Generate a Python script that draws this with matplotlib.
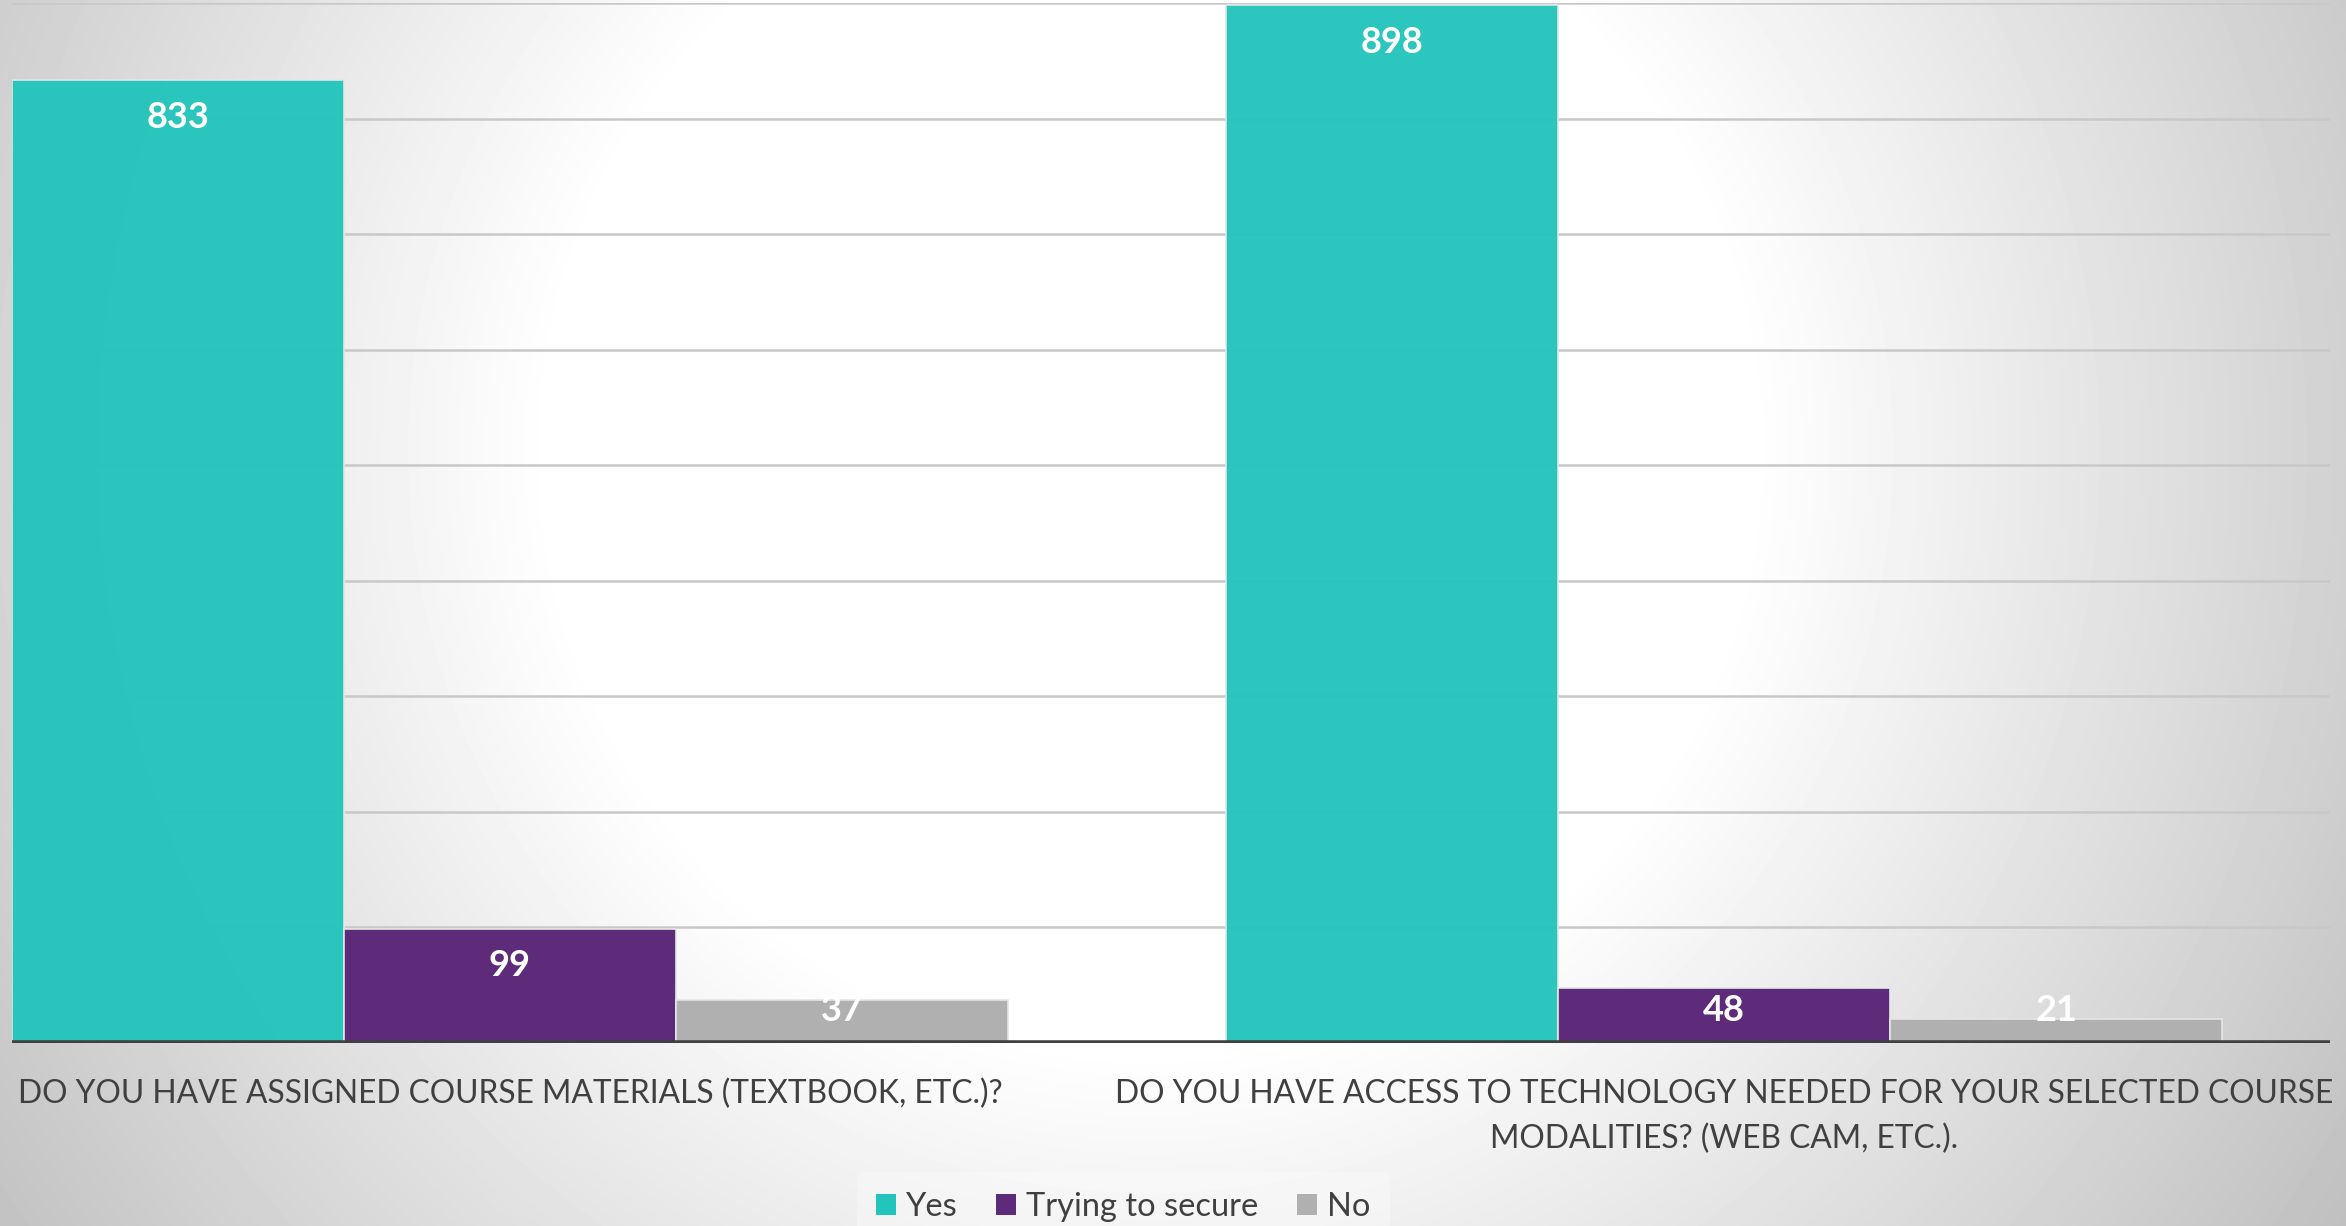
import matplotlib.pyplot as plt
from matplotlib.patches import Patch
from matplotlib.transforms import blended_transform_factory
import numpy as np

# data
categories = ['DO YOU HAVE ASSIGNED COURSE MATERIALS (TEXTBOOK, ETC.)?',
              'DO YOU HAVE ACCESS TO TECHNOLOGY NEEDED FOR YOUR SELECTED COURSE\nMODALITIES? (WEB CAM, ETC.).']
series_names = ['Yes', 'Trying to secure', 'No']
yes_vals = [833, 898]
trying_vals = [99, 48]
no_vals = [37, 21]

colors = ['#22c4bb', '#5e2b7b', '#b0b0b0']
alphas = [0.96, 1.0, 1.0]
font = 'Lato'

W, H = 2346, 1226
fig = plt.figure(figsize=(W / 100, H / 100), dpi=100)

# radial grey-to-white background
bg = fig.add_axes([0, 0, 1, 1], zorder=-10)
yy, xx = np.mgrid[0:H, 0:W]
d = np.hypot(xx - 1150, yy - 450)
shade = np.clip(255 - 0.077 * np.clip(d - 600, 0, None), 0, 255) / 255
bg.imshow(shade, cmap='gray', vmin=0, vmax=1, aspect='auto', interpolation='bilinear')
bg.axis('off')

ax = fig.add_axes([12 / W, 183 / H, 2318 / W, 1040 / H])
ax.patch.set_alpha(0)

x = np.arange(len(categories))
w = 0.2735
series = [yes_vals, trying_vals, no_vals]
for i, (name, vals) in enumerate(zip(series_names, series)):
    pos = x + (i - 1) * w
    bars = ax.bar(pos, vals, width=w, color=colors[i], alpha=alphas[i],
                  edgecolor='#e6e6e6', linewidth=1.2, zorder=2)
    for b, v in zip(bars, vals):
        ax.text(b.get_x() + b.get_width() / 2, max(v - 32, 28.5), str(v),
                ha='center', va='center', color='white', fontsize=26,
                fontweight='bold', family=font, zorder=3)

ax.set_xlim(-0.41, 1.499)
ax.set_ylim(0, 900)
ax.set_yticks(np.arange(0, 901, 100))
ax.set_yticklabels([])
ax.set_xticks([])
ax.tick_params(length=0)
ax.grid(axis='y', color='#c8c8c8', linewidth=1.8, zorder=0)
ax.set_axisbelow(True)
for s in ax.spines.values():
    s.set_visible(False)
ax.axhline(0, color='#404040', linewidth=4, zorder=4)

# category labels under the groups
tr = blended_transform_factory(ax.transData, ax.transAxes)
for xi, lab in zip(x, categories):
    for j, line in enumerate(lab.split('\n')):
        ax.text(xi, -(60 + 45 * j) / 1040, line, transform=tr, ha='center',
                va='baseline', fontsize=22.9, color='#404040', family=font)

handles = [Patch(facecolor=c, edgecolor='none') for c in colors]
leg = fig.legend(handles, series_names, loc='center', bbox_to_anchor=(1123 / W, 19 / H),
                 ncol=3, frameon=True, facecolor='white', edgecolor='none', framealpha=0.3,
                 prop={'family': font, 'size': 23.5}, handlelength=0.6, handleheight=0.6,
                 handletextpad=0.3, columnspacing=1.2, borderpad=0.6)
for t in leg.get_texts():
    t.set_color('#404040')

fig.savefig('out.png', dpi=100)
